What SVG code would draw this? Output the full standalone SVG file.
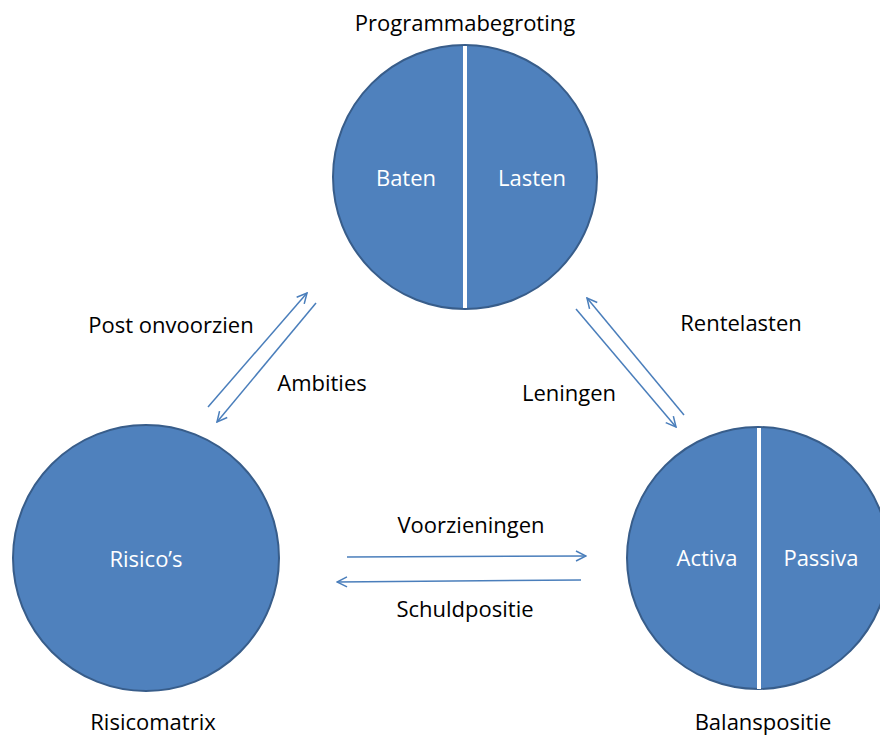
<svg xmlns="http://www.w3.org/2000/svg" width="880" height="735" viewBox="0 0 880 735">
<defs>
<style>
.node{fill:#4F81BD;stroke:#385D8A;stroke-width:2}
.div{stroke:#FFFFFF;stroke-width:4}
.in{font-family:"Open Sans","Liberation Sans",Arial,sans-serif;font-size:22px;fill:#FFFFFF;text-anchor:middle}
.lbl{font-family:"Open Sans","Liberation Sans",Arial,sans-serif;font-size:22px;fill:#000000;text-anchor:middle}
.arr{stroke:#4A7EBB;stroke-width:1.5;fill:none;marker-end:url(#ah)}
</style>
<marker id="ah" viewBox="0 0 12 12" refX="11" refY="6" markerWidth="12" markerHeight="12" markerUnits="userSpaceOnUse" orient="auto">
<path d="M1,1 L11,6 L1,11" fill="none" stroke="#4A7EBB" stroke-width="1.5"/>
</marker>
</defs>
<rect width="880" height="735" fill="#FFFFFF"/>
<g id="programmabegroting">
<circle class="node" cx="465" cy="177" r="132"/>
<line class="div" x1="465" y1="46" x2="465" y2="308"/>
<text class="in" x="406" y="186">Baten</text>
<text class="in" x="532" y="186">Lasten</text>
<text class="lbl" x="465" y="31">Programmabegroting</text>
</g>
<g id="risicomatrix">
<circle class="node" cx="146" cy="558" r="133"/>
<text class="in" x="146" y="567">Risico’s</text>
<text class="lbl" x="153" y="730">Risicomatrix</text>
</g>
<g id="balanspositie">
<circle class="node" cx="758" cy="558" r="131"/>
<line class="div" x1="759" y1="428" x2="759" y2="689"/>
<text class="in" x="707" y="566">Activa</text>
<text class="in" x="821" y="566">Passiva</text>
<text class="lbl" x="763" y="730">Balanspositie</text>
</g>
<g id="connectors">
<line class="arr" x1="208" y1="407" x2="307" y2="293"/>
<line class="arr" x1="316" y1="303" x2="217" y2="422"/>
<line class="arr" x1="684" y1="415" x2="587" y2="298"/>
<line class="arr" x1="576" y1="309" x2="676" y2="427"/>
<line class="arr" x1="347" y1="557" x2="586" y2="556"/>
<line class="arr" x1="581" y1="580" x2="337" y2="582"/>
<text class="lbl" x="171" y="333">Post onvoorzien</text>
<text class="lbl" x="322" y="391">Ambities</text>
<text class="lbl" x="741" y="331">Rentelasten</text>
<text class="lbl" x="569" y="401">Leningen</text>
<text class="lbl" x="471" y="533">Voorzieningen</text>
<text class="lbl" x="465" y="617">Schuldpositie</text>
</g>
</svg>
